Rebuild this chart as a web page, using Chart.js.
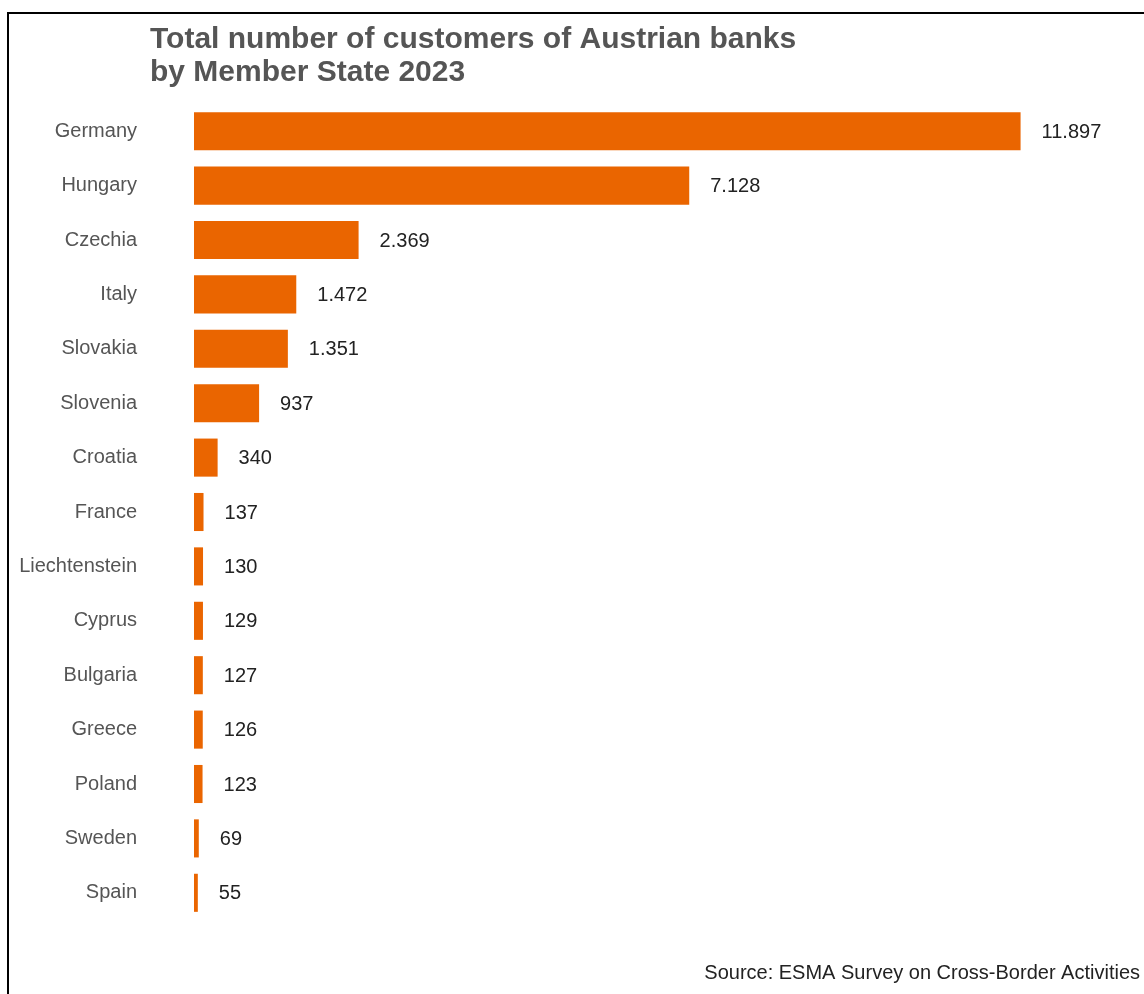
<!DOCTYPE html>
<html>
<head>
<meta charset="utf-8">
<script src="https://cdn.jsdelivr.net/npm/chart.js@4.4.1/dist/chart.umd.min.js"></script>
<style>
  html, body { margin: 0; padding: 0; background: #fff; }
  #wrap { position: relative; width: 1144px; height: 994px; overflow: hidden; }
  #frame { position: absolute; left: 7px; top: 12px; width: 1200px; height: 1000px;
           border-left: 2px solid #000; border-top: 2px solid #000; pointer-events: none; }
  canvas { position: absolute; left: 0; top: 0; }
</style>
</head>
<body>
<div id="wrap">
  <canvas id="chart" width="1144" height="994"></canvas>
  <div id="frame"></div>
</div>
<script>
// Customers of Austrian banks per Member State, 2023
const countries = ['Germany', 'Hungary', 'Czechia', 'Italy', 'Slovakia', 'Slovenia', 'Croatia',
  'France', 'Liechtenstein', 'Cyprus', 'Bulgaria', 'Greece', 'Poland', 'Sweden', 'Spain'];
const customers = [11897, 7128, 2369, 1472, 1351, 937, 340, 137, 130, 129, 127, 126, 123, 69, 55];
const titleLines = ['Total number of customers of Austrian banks', 'by Member State 2023'];
const sourceNote = 'Source: ESMA Survey on Cross-Border Activities';

const FONT = '"Liberation Sans", Arial, Helvetica, sans-serif';

// thousands separated with a dot
function fmt(v) {
  return String(v).replace(/\B(?=(\d{3})+(?!\d))/g, '.');
}

const valueLabels = {
  id: 'valueLabels',
  afterDatasetsDraw(chart) {
    const ctx = chart.ctx;
    const meta = chart.getDatasetMeta(0);
    ctx.save();
    ctx.font = '20px ' + FONT;
    ctx.fillStyle = '#222';
    ctx.textAlign = 'left';
    ctx.textBaseline = 'middle';
    meta.data.forEach((bar, i) => {
      ctx.fillText(fmt(customers[i]), bar.x + 21, bar.y + 1);
    });
    ctx.restore();
  }
};

const headerFooter = {
  id: 'headerFooter',
  afterDraw(chart) {
    const ctx = chart.ctx;
    ctx.save();
    ctx.font = 'bold 30px ' + FONT;
    ctx.fillStyle = '#555';
    ctx.textAlign = 'left';
    ctx.textBaseline = 'alphabetic';
    ctx.fillText(titleLines[0], 150, 48);
    ctx.fillText(titleLines[1], 150, 81);
    ctx.font = '20px ' + FONT;
    ctx.fillStyle = '#222';
    ctx.textAlign = 'right';
    ctx.fillText(sourceNote, 1140, 979);
    ctx.restore();
  }
};

new Chart(document.getElementById('chart'), {
  type: 'bar',
  data: {
    labels: countries,
    datasets: [{
      data: customers,
      backgroundColor: '#EA6500',
      borderWidth: 0,
      barPercentage: 0.7,
      categoryPercentage: 1.0
    }]
  },
  options: {
    indexAxis: 'y',
    responsive: false,
    animation: false,
    devicePixelRatio: 1,
    layout: { padding: { top: 104, bottom: 74, left: 0, right: 19 } },
    plugins: { legend: { display: false }, tooltip: { enabled: false }, title: { display: false } },
    scales: {
      x: { display: false, min: 0, max: 13400 },
      y: {
        grid: { display: false, drawTicks: false },
        border: { display: false },
        afterFit(scale) { scale.width = 194; },
        ticks: { padding: 57, color: '#555', font: { size: 20, family: FONT } }
      }
    }
  },
  plugins: [valueLabels, headerFooter]
});
</script>
</body>
</html>
